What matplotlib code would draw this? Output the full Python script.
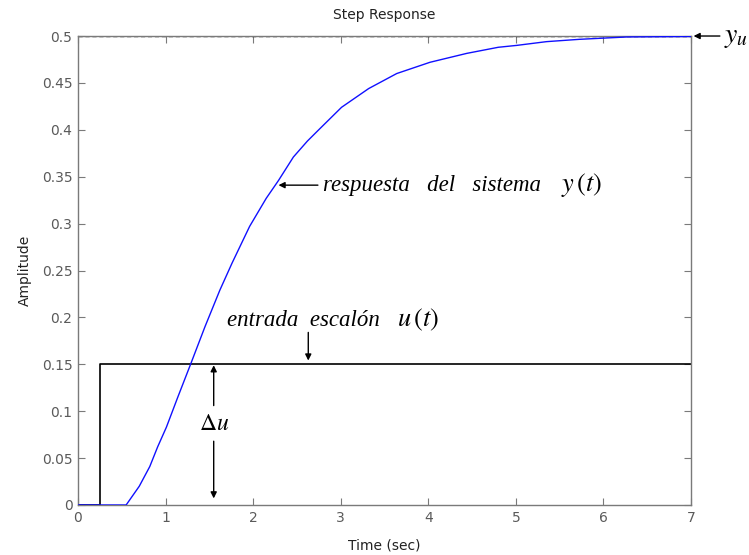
import matplotlib
matplotlib.use("Agg")
import matplotlib.pyplot as plt

plt.rcParams["mathtext.fontset"] = "stix"

# System output y(t)
t_resp = [0, 0.55, 0.70, 0.82, 0.91, 1.01, 1.14, 1.29, 1.45, 1.62, 1.76, 1.96,
          2.15, 2.29, 2.46, 2.62, 2.76, 3.01, 3.32, 3.64, 4.02, 4.44, 4.80,
          5.01, 5.35, 5.73, 6.27, 7.0]
y_resp = [0, 0, 0.020, 0.041, 0.062, 0.083, 0.115, 0.151, 0.190, 0.229, 0.258,
          0.297, 0.327, 0.346, 0.371, 0.388, 0.401, 0.424, 0.444, 0.460, 0.472,
          0.4815, 0.488, 0.490, 0.494, 0.4965, 0.499, 0.4995]

# Step input u(t)
t_step = [0, 0.25, 0.25, 7.0]
u_step = [0, 0, 0.15, 0.15]

y_final = 0.5
x_ticks = [0, 1, 2, 3, 4, 5, 6, 7]
y_ticks = [0, 0.05, 0.1, 0.15, 0.2, 0.25, 0.3, 0.35, 0.4, 0.45, 0.5]
y_tick_labels = ["0", "0.05", "0.1", "0.15", "0.2", "0.25", "0.3", "0.35",
                 "0.4", "0.45", "0.5"]

gray = "#7a7a7a"
fig = plt.figure(figsize=(7.49, 5.55), dpi=100)
ax = fig.add_axes([0.1041, 0.0901, 0.8184, 0.845])

ax.plot(t_step, u_step, color="black", lw=1.2, zorder=2)
ax.plot([0, 7], [y_final, y_final], color="black", lw=1.0, ls=(0, (3, 2)), zorder=2)
ax.plot(t_resp, y_resp, color="#1010ff", lw=1.0, zorder=3)

ax.set_xlim(0, 7)
ax.set_ylim(0, 0.5)
ax.set_xticks(x_ticks)
ax.set_yticks(y_ticks)
ax.set_yticklabels(y_tick_labels)
ax.tick_params(direction="in", top=True, right=True, length=5, width=0.8,
               colors=gray, labelsize=10, labelcolor="#5a5a5a", pad=4)
for s in ax.spines.values():
    s.set_color(gray)
    s.set_linewidth(1.0)

sans = "DejaVu Sans"
for lab in ax.get_xticklabels() + ax.get_yticklabels():
    lab.set_family(sans)
ax.set_title("Step Response", fontsize=10, family=sans, color="#222222", pad=12)
ax.set_xlabel("Time (sec)", fontsize=10, family=sans, color="#222222", labelpad=10)
ax.set_ylabel("Amplitude", fontsize=10, family=sans, color="#222222", labelpad=7)

serif = dict(family="Liberation Serif", style="italic", fontsize=16.5, color="black")
aprops = dict(arrowstyle="-|>", color="black", lw=1.0, mutation_scale=9, shrinkA=0, shrinkB=0)

# response label
ax.annotate("", xy=(2.29, 0.341), xytext=(2.74, 0.341), arrowprops=aprops)
ax.text(2.80, 0.341, r"respuesta   del   sistema",
        va="center", ha="left", **serif)
ax.text(5.52, 0.341, r"$y\,(t)$", va="center", ha="left", fontsize=19)

# input label
ax.text(1.7, 0.197, r"entrada  escalón",
        va="center", ha="left", **serif)
ax.text(3.64, 0.197, r"$u\,(t)$", va="center", ha="left", fontsize=19)
ax.annotate("", xy=(2.63, 0.154), xytext=(2.63, 0.184), arrowprops=aprops)

# delta u
ax.annotate("", xy=(1.55, 0.149), xytext=(1.55, 0.106), arrowprops=aprops)
ax.annotate("", xy=(1.55, 0.007), xytext=(1.55, 0.068), arrowprops=aprops)
ax.text(1.55, 0.087, r"$\Delta u$", ha="center", va="center", fontsize=17)

# final value
ax.annotate("", xy=(7.03, 0.5), xytext=(7.33, 0.5), arrowprops=aprops,
            annotation_clip=False)
ax.text(7.38, 0.5, r"$y_u$", va="center", ha="left", fontsize=20, clip_on=False)

fig.savefig("out.png", dpi=100, facecolor="white")
